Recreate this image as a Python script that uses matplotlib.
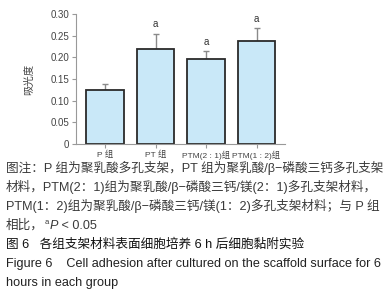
import matplotlib
matplotlib.use("Agg")
import matplotlib.pyplot as plt

plt.rcParams['font.family'] = ['Liberation Sans', 'Noto Sans CJK SC', 'DejaVu Sans']

categories = ["P 组", "PT 组", "PTM(2 : 1)组", "PTM(1 : 2)组"]
values = [0.125, 0.219, 0.197, 0.237]
errors = [0.013, 0.036, 0.018, 0.030]
sig = ["", "a", "a", "a"]
yticks = [0, 0.05, 0.10, 0.15, 0.20, 0.25, 0.30]
yticklabels = ["0", "0.05", "0.10", "0.15", "0.20", "0.25", "0.30"]

fig = plt.figure(figsize=(3.92, 2.95), dpi=100)
ax = fig.add_axes([0.194, 0.512, 0.533, 0.4405])
x = list(range(len(categories)))
ax.bar(x, values, width=0.75, color="#c9e8f8", edgecolor="#2a2a2a", linewidth=1.3, zorder=2)
ax.errorbar(x, values, yerr=[[0]*len(values), errors], fmt="none", ecolor="#8a8a8a",
            elinewidth=1.0, capsize=2.5, capthick=1.0, zorder=1)
for xi, v, e, s in zip(x, values, errors, sig):
    if s:
        ax.annotate(s, (xi, v + e), xytext=(0, 3), textcoords="offset points",
                    ha="center", va="bottom", fontsize=7, color="#333333")
ax.set_xlim(-0.574, 3.564)
ax.set_ylim(0, 0.30)
ax.set_yticks(yticks)
ax.set_yticklabels(yticklabels)
ax.set_xticks(x)
ax.set_xticklabels(categories, fontsize=6.0)
for sp in ["top", "right"]:
    ax.spines[sp].set_visible(False)
for sp in ["left", "bottom"]:
    ax.spines[sp].set_color("#999999")
    ax.spines[sp].set_linewidth(0.8)
ax.tick_params(axis="both", colors="#999999", length=3, width=0.8,
               labelcolor="#444444", pad=2)
ax.tick_params(axis="y", labelsize=7)
ax.set_ylabel("吸光度", fontsize=7.5, color="#444444", labelpad=12)

fs = 9.1
note_color = "#3a3a3a"
lines = [
    (172, "图注：P 组为聚乳酸多孔支架，PT 组为聚乳酸/β−磷酸三钙多孔支架"),
    (191, "材料，PTM(2：1)组为聚乳酸/β−磷酸三钙/镁(2：1)多孔支架材料，"),
    (210, "PTM(1：2)组为聚乳酸/β−磷酸三钙/镁(1：2)多孔支架材料；与 P 组"),
]
for yy, t in lines:
    fig.text(6/392, 1 - yy/295, t, fontsize=fs, color=note_color, va="baseline", ha="left")

base_y = 229
t1 = fig.text(6/392, 1 - base_y/295, "相比，", fontsize=fs, color=note_color,
              va="baseline", ha="left")
fig.canvas.draw()
r = fig.canvas.get_renderer()
bb = t1.get_window_extent(r)
x0 = bb.x1 / fig.bbox.width
fig.text(x0 + 1/392, 1 - (base_y - 5)/295, "a", fontsize=5.5, color=note_color,
         va="baseline", ha="left")
pv = fig.text(x0 + 6/392, 1 - base_y/295, "P", fontsize=fs, color=note_color,
              va="baseline", ha="left", style="italic")
fig.canvas.draw()
bb2 = pv.get_window_extent(r)
fig.text(bb2.x1 / fig.bbox.width, 1 - base_y/295, " < 0.05", fontsize=fs, color=note_color,
         va="baseline", ha="left")

fig.text(6/392, 1 - 248/295, "图 6   各组支架材料表面细胞培养 6 h 后细胞黏附实验", fontsize=fs,
         color="#111111", va="baseline", ha="left")
fig.text(6/392, 1 - 267/295, "Figure 6    Cell adhesion after cultured on the scaffold surface for 6",
         fontsize=fs, color="#222222", va="baseline", ha="left")
fig.text(6/392, 1 - 286/295, "hours in each group", fontsize=fs, color="#222222",
         va="baseline", ha="left")

fig.savefig("out.png", dpi=100)
